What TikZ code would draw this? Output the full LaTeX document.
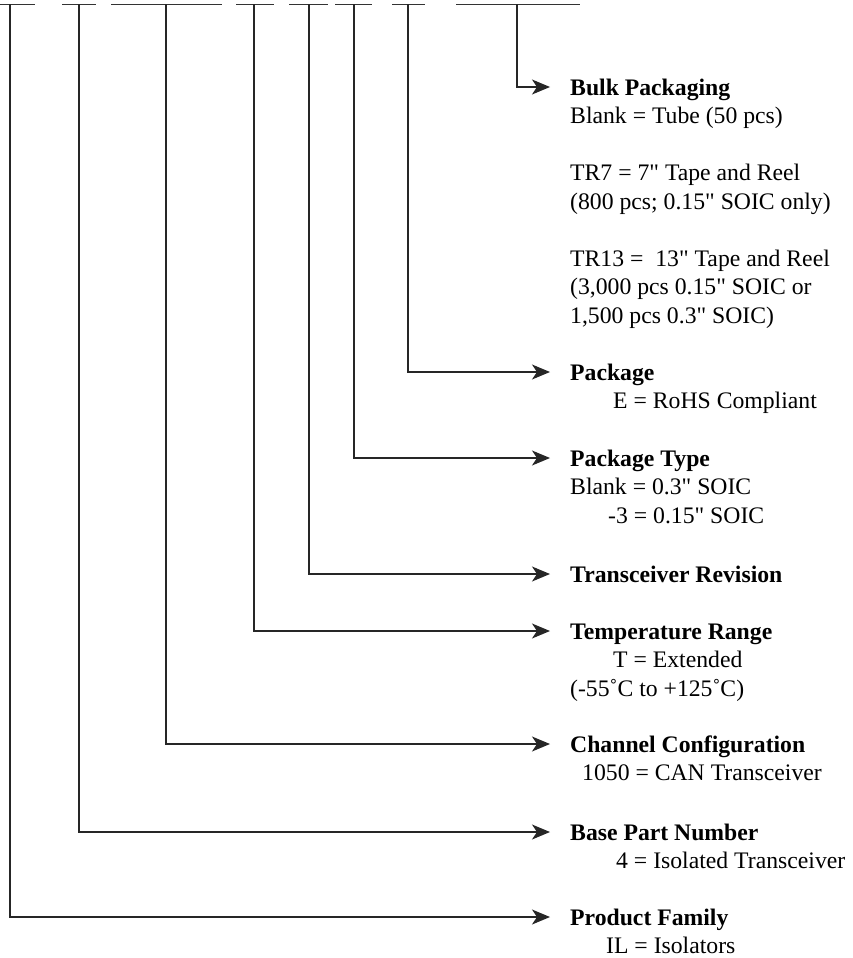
\documentclass[tikz,border=0pt]{standalone}
\usepackage{fontspec}
\setmainfont{Liberation Serif}[Ligatures=TeXOff]
\usetikzlibrary{arrows.meta}
\tikzset{
  slotline/.style   = {line width=1.3pt, black!80},
  lead/.style       = {line width=1.3pt, black!85, shorten >=20pt,
                       -{Stealth[length=18pt, width=15pt, inset=5pt]}},
  fieldtitle/.style = {anchor=west, inner sep=0pt, text height=16pt,
                       text depth=0pt,
                       font=\fontsize{23.7}{28.5}\selectfont\bfseries},
  fielddesc/.style  = {anchor=base west, inner sep=0pt,
                       font=\fontsize{23.7}{28.5}\selectfont},
}
% #1 field name, #2 y of arrow, #3 title, #4 description lines
\newcommand{\partfield}[4]{%
  \node[fieldtitle] (#1) at (570,#2) {#3};
  \ifx&#4&\else\node[fielddesc] (#1Txt) at ([yshift=-28.5pt]#1.base west)
    {\begin{tabular}[t]{@{}l@{}}#4\end{tabular}};\fi
  \draw[lead] (#1Top) |- (#1);
}

\begin{document}
\begin{tikzpicture}[x=1pt, y=-1pt]
\useasboundingbox (0,0) rectangle (852,958);

% ===== blanks of the part number =====
\foreach \name/\xa/\xb/\xv in {family/0/35/10, basePart/62/96/79,
    channel/111/222/166, temp/236/274/254, revision/289/328/309,
    pkgType/335/372/354, pkg/392/425/408, bulk/456/580/517} {
  \draw[slotline] (\xa,4.5) -- (\xb,4.5);
  \coordinate (\name Top) at (\xv,4.5);
}

% ===== fields =====
\partfield{bulk}{87}{Bulk Packaging}
  {Blank = Tube (50 pcs)\\[28.5pt]
   TR7 = 7" Tape and Reel\\
   (800 pcs; 0.15" SOIC only)\\[28.5pt]
   TR13 =\ \ 13" Tape and Reel\\
   (3,000 pcs 0.15" SOIC or\\
   1,500 pcs 0.3" SOIC)}
\partfield{pkg}{372}{Package}
  {\hspace*{43pt}E = RoHS Compliant}
\partfield{pkgType}{458}{Package Type}
  {Blank = 0.3" SOIC\\
   \hspace*{38pt}-3 = 0.15" SOIC}
\partfield{revision}{574}{Transceiver Revision}{}
\partfield{temp}{631}{Temperature Range}
  {\hspace*{43pt}T = Extended\\
   (-55˚C to +125˚C)}
\partfield{channel}{744}{Channel Configuration}
  {\hspace*{12pt}1050 = CAN Transceiver}
\partfield{basePart}{832}{Base Part Number}
  {\hspace*{46pt}4 = Isolated Transceiver}
\partfield{family}{917}{Product Family}
  {\hspace*{36pt}IL = Isolators}

\end{tikzpicture}
\end{document}
